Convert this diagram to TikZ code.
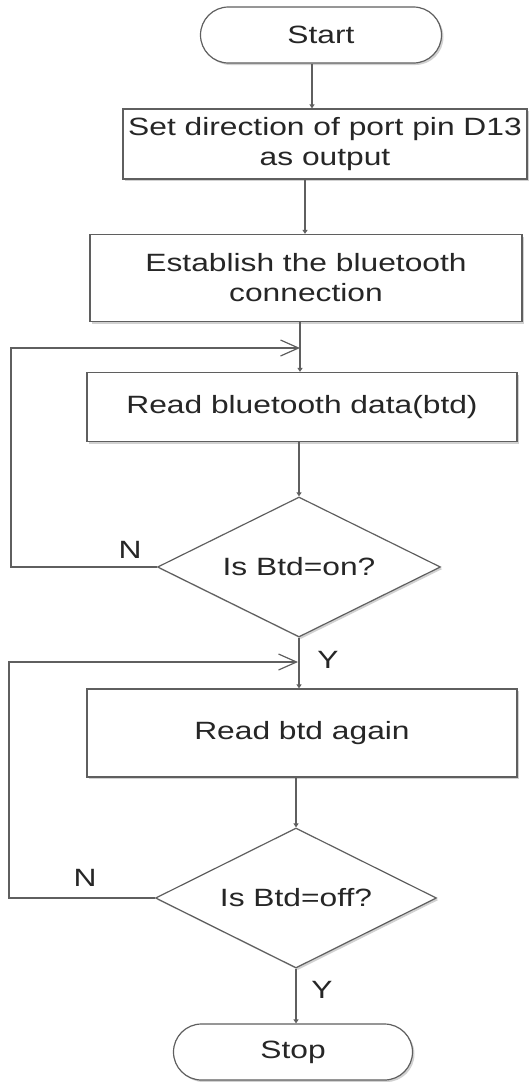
\documentclass[tikz,border=0pt]{standalone}
\usepackage{fontspec}
\setmainfont{Liberation Sans}[FakeStretch=1.27]
\usetikzlibrary{shapes.geometric,shapes.misc,arrows.meta,shadows}

\definecolor{linegray}{RGB}{95,95,95}
\definecolor{textgray}{RGB}{38,38,38}

\tikzstyle{boxshadow} = [drop shadow={shadow xshift=2pt, shadow yshift=-2pt, fill=black!18, opacity=1}]
\tikzstyle{procbox} = [rectangle, draw=linegray, fill=white, line width=1.2pt, text=textgray, align=center, inner sep=0pt, boxshadow]
\tikzstyle{termbox} = [rounded rectangle, draw=linegray, fill=white, line width=1.2pt, text=textgray, inner sep=0pt, boxshadow]
\tikzstyle{decbox} = [diamond, aspect=2, draw=linegray, fill=white, line width=1.2pt, text=textgray, inner sep=0pt, boxshadow]
\tikzstyle{flow} = [draw=linegray, line width=1.2pt, -{Triangle[length=4pt,width=5pt]}]
\tikzstyle{loopline} = [draw=linegray, line width=1.2pt, -{Straight Barb[length=18pt,width=16pt,line width=1.2pt]}]
\tikzstyle{yn} = [text=textgray, inner sep=0pt]

\begin{document}
\begin{tikzpicture}[x=1pt, y=-1pt, font=\fontsize{25}{30}\selectfont]
  \useasboundingbox (0,0) rectangle (531,1082);

  % boxes, top to bottom
  \node[termbox, minimum width=241, minimum height=56] (start) at (321,35) {Start};
  \node[procbox, minimum width=404, minimum height=70] (set) at (325,144) {Set direction of port pin D13\\as output};
  \node[procbox, minimum width=432, minimum height=87] (link) at (306,278) {Establish the bluetooth\\connection};
  \node[procbox, minimum width=430, minimum height=69] (read) at (302,407) {Read bluetooth data(btd)};
  \node[decbox, minimum width=283, minimum height=140] (ison) at (299,567) {Is Btd=on?};
  \node[procbox, minimum width=430, minimum height=88] (again) at (302,733) {Read btd again};
  \node[decbox, minimum width=281, minimum height=140] (isoff) at (296,898) {Is Btd=off?};
  \node[termbox, minimum width=239, minimum height=56] (stop) at (293,1052) {Stop};

  % where the loops come back in
  \coordinate (join1) at (300,348);
  \coordinate (join2) at (298,662);

  \draw[flow] ([xshift=-9]start.south) -- ([xshift=-9]start.south |- set.north);
  \draw[flow] ([xshift=-20]set.south) -- ([xshift=-20]set.south |- link.north);
  \draw[flow] (join1 |- link.south) -- (join1 |- read.north);
  \draw[flow] (ison.north |- read.south) -- (ison.north);
  \draw[flow] (ison.south) -- (ison.south |- again.north);
  \draw[flow] (isoff.north |- again.south) -- (isoff.north);
  \draw[flow] (isoff.south) -- (isoff.south |- stop.north);

  % no-branches going back up
  \draw[loopline] (ison.west) -- ++(-146,0) |- (join1);
  \draw[loopline] (isoff.west) -- ++(-146,0) |- (join2);

  \node[yn] (n1) at (130,550) {N};
  \node[yn] (y1) at (328,660) {Y};
  \node[yn] (n2) at (85,878) {N};
  \node[yn] (y2) at (322,990) {Y};
\end{tikzpicture}
\end{document}
